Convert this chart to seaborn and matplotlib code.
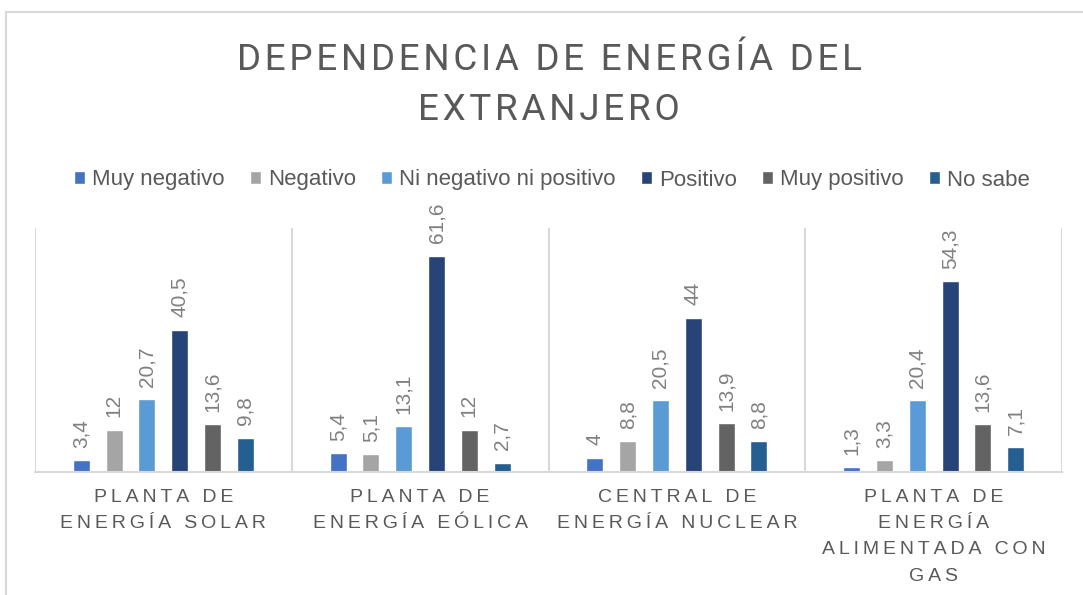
import pandas as pd
import matplotlib
matplotlib.use("Agg")
import matplotlib.pyplot as plt
import seaborn as sns
from matplotlib.patches import Rectangle

# Datos
categorias = [
    "PLANTA DE\nENERGÍA SOLAR",
    "PLANTA DE\nENERGÍA EÓLICA",
    "CENTRAL DE\nENERGÍA NUCLEAR",
    "PLANTA DE\nENERGÍA\nALIMENTADA CON\nGAS",
]
respuestas = ["Muy negativo", "Negativo", "Ni negativo ni positivo",
              "Positivo", "Muy positivo", "No sabe"]
muy_negativo = [3.4, 5.4, 4, 1.3]
negativo = [12, 5.1, 8.8, 3.3]
ni_neg_ni_pos = [20.7, 13.1, 20.5, 20.4]
positivo = [40.5, 61.6, 44, 54.3]
muy_positivo = [13.6, 12, 13.9, 13.6]
no_sabe = [9.8, 2.7, 8.8, 7.1]

colores = ["#4472C4", "#A5A5A5", "#5B9BD5", "#264478", "#636363", "#255E91"]

series = [muy_negativo, negativo, ni_neg_ni_pos, positivo, muy_positivo, no_sabe]
filas = []
for resp, vals in zip(respuestas, series):
    for cat, v in zip(categorias, vals):
        filas.append({"categoria": cat, "respuesta": resp, "valor": v})
df = pd.DataFrame(filas)

sns.set_style("white")
plt.rcParams["font.family"] = ["Liberation Sans", "DejaVu Sans"]

gris_texto = "#595959"
gris_linea = "#D9D9D9"

def espaciar(texto, sep="\u2009"):
    return "\n".join(sep.join(list(linea)) for linea in texto.split("\n"))

fig = plt.figure(figsize=(10.83, 5.95), dpi=100)
ax = fig.add_axes([35 / 1083, 1 - 472 / 595, (1062 - 35) / 1083, (472 - 228) / 595])

sns.barplot(data=df, x="categoria", y="valor", hue="respuesta",
            hue_order=respuestas, order=categorias, palette=colores,
            width=0.767, gap=0.48, ax=ax, saturation=1)

# Etiquetas de datos
for cont, vals in zip(ax.containers, series):
    etiquetas = [f"{v:g}".replace(".", ",") for v in vals]
    ax.bar_label(cont, labels=etiquetas, rotation=90, padding=9,
                 fontsize=15, color="#808080")

ax.set_ylim(0, 69.5)
ax.set_xlim(-0.5, 3.5)
ax.set_yticks([])
ax.set_ylabel("")
ax.set_xlabel("")
ax.set_xticks(range(4))
ax.set_xticklabels([espaciar(c) for c in categorias], fontsize=14,
                   color=gris_texto, linespacing=1.72)
ax.tick_params(axis="x", length=0, pad=12)

# Separadores verticales entre categorías
ax.set_xticks([-0.5, 0.5, 1.5, 2.5, 3.5], minor=True)
ax.tick_params(axis="x", which="minor", length=0)
ax.grid(which="minor", axis="x", color=gris_linea, linewidth=1.5)
ax.grid(which="major", visible=False)
for lado in ["top", "left", "right"]:
    ax.spines[lado].set_visible(False)
ax.spines["bottom"].set_color(gris_linea)
ax.spines["bottom"].set_linewidth(1.5)

# Leyenda
handles, labels = ax.get_legend_handles_labels()
ax.legend(handles, labels, loc="center", bbox_to_anchor=(552 / 1083, 1 - 180 / 595),
          bbox_transform=fig.transFigure, ncol=6, frameon=False, fontsize=16,
          labelcolor=gris_texto, handlelength=0.5, handleheight=0.5,
          handletextpad=0.3, columnspacing=1.15, borderaxespad=0)

# Título
titulo = ["DEPENDENCIA DE ENERGÍA DEL", "EXTRANJERO"]
for i, linea in enumerate(titulo):
    fig.text(549 / 1083, 1 - (60 + 50 * i) / 595, espaciar(linea, "\u200a"),
             ha="center", va="center", fontsize=26.5, color=gris_texto,
             family=["Roboto", "DejaVu Sans"])

# Borde del gráfico
fig.patches.append(Rectangle((5.5 / 1083, -0.1), 1.2, 1 - 11.5 / 595 + 0.1,
                             transform=fig.transFigure, fill=False,
                             edgecolor=gris_linea, linewidth=1.5))

fig.savefig("out.png", dpi=100)
